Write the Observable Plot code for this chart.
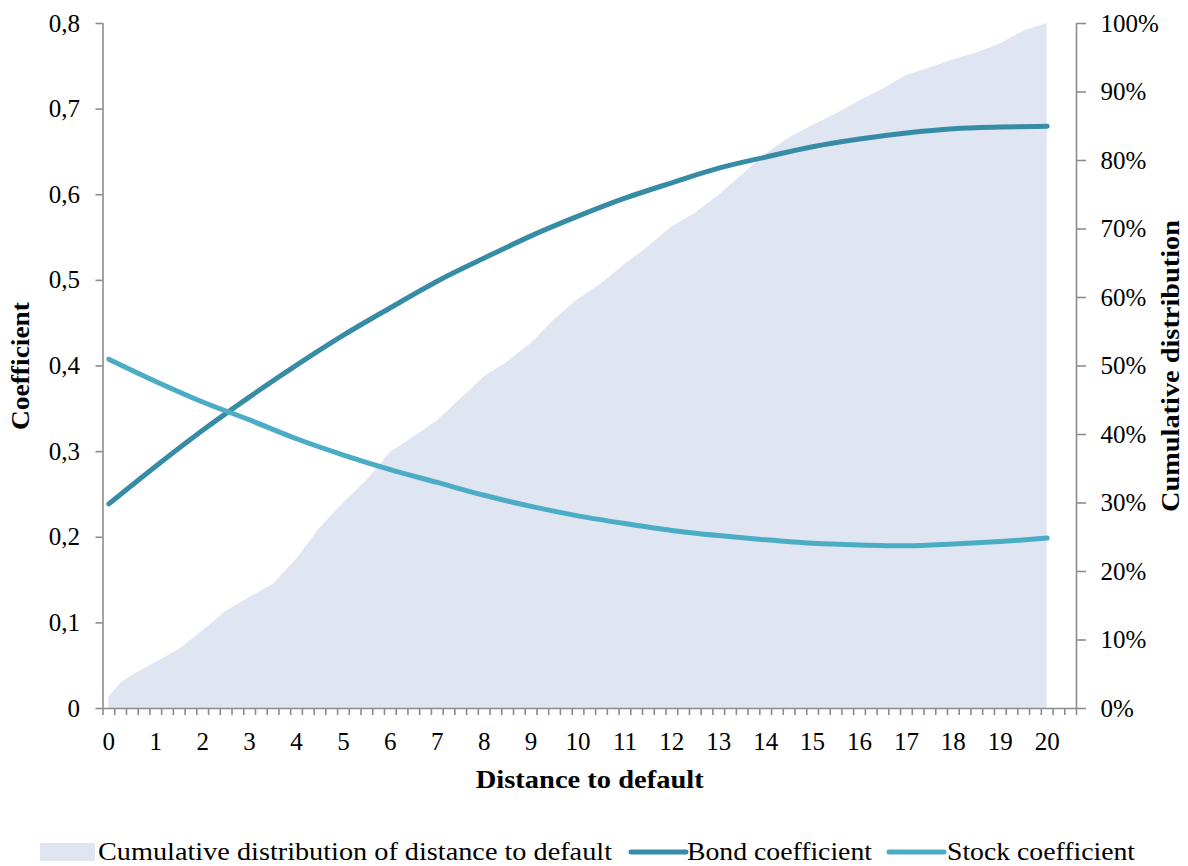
<!DOCTYPE html>
<html>
<head>
<meta charset="utf-8">
<script src="https://cdn.jsdelivr.net/npm/d3@7"></script>
<script src="https://cdn.jsdelivr.net/npm/@observablehq/plot@0.6"></script>
<style>
  body { margin: 0; background: #ffffff; }
  #chart { position: relative; width: 1188px; height: 866px; font-family: "Liberation Serif", serif; }
  #chart svg { display: block; }
</style>
</head>
<body>
<div id="chart"></div>
<script>
// ---- data ----
const distance = [0,1,2,3,4,5,6,7,8,9,10,11,12,13,14,15,16,17,18,19,20];
const bondCoef = [0.239,0.283,0.325,0.364,0.401,0.436,0.468,0.499,0.526,0.552,0.575,0.596,0.614,0.631,0.644,0.656,0.665,0.672,0.677,0.679,0.680];
const stockCoef = [0.408,0.382,0.358,0.337,0.315,0.296,0.279,0.264,0.249,0.236,0.225,0.216,0.208,0.202,0.197,0.193,0.191,0.190,0.192,0.195,0.199];
const cdfX = [0,0.25,0.5,1,1.5,2,2.5,3,3.5,4,4.5,5,5.5,6,6.5,7,7.5,8,8.5,9,9.5,10,10.5,11,11.5,12,12.5,13,13.5,14,14.5,15,15.5,16,16.5,17,17.5,18,18.5,19,19.5,20];
const cdfPct = [1.6,3.7,4.8,6.7,8.6,11.3,14.2,16.2,18.1,21.8,26.3,30.0,33.3,37.4,39.6,42.0,45.2,48.4,50.6,53.3,56.8,59.7,62.0,64.8,67.4,70.3,72.3,74.9,77.9,80.9,83.3,85.1,86.8,88.7,90.4,92.4,93.5,94.7,95.7,97.0,98.9,100];

const xTickValues = [0,1,2,3,4,5,6,7,8,9,10,11,12,13,14,15,16,17,18,19,20];
const coefTicks = [0,0.1,0.2,0.3,0.4,0.5,0.6,0.7,0.8];
const coefTickLabels = ["0","0,1","0,2","0,3","0,4","0,5","0,6","0,7","0,8"];
const pctTicks = [0,10,20,30,40,50,60,70,80,90,100];
const pctTickLabels = ["0%","10%","20%","30%","40%","50%","60%","70%","80%","90%","100%"];

const seriesNames = ["Cumulative distribution of distance to default","Bond coefficient","Stock coefficient"];
const colors = { area: "#dfe6f1", bond: "#378ca5", stock: "#4bacc6", axis: "#8c8c8c" };

// ---- build tables ----
const coefMax = 0.8;
const bondData = distance.map((x, i) => ({ x, y: bondCoef[i] }));
const stockData = distance.map((x, i) => ({ x, y: stockCoef[i] }));
const cdfData = cdfX.map((x, i) => ({ x, pct: cdfPct[i] }));
const xMin = -0.125, xMax = 20.625;
const minorTicks = d3.range(0, 84).map(i => xMin + i * 0.25);

const plot = Plot.plot({
  width: 1188,
  height: 820,
  marginLeft: 102.5,
  marginRight: 112,
  marginTop: 23,
  marginBottom: 112,
  style: { fontFamily: "Liberation Serif, serif", fontSize: "25px", color: "#000", background: "#fff", overflow: "visible" },
  x: { domain: [xMin, xMax] },
  y: { domain: [0, coefMax] },
  marks: [
    Plot.areaY(cdfData, { x: "x", y: d => d.pct / 100 * coefMax, fill: colors.area }),
    Plot.line(bondData, { x: "x", y: "y", stroke: colors.bond, strokeWidth: 5, curve: "monotone-x", strokeLinecap: "round" }),
    Plot.line(stockData, { x: "x", y: "y", stroke: colors.stock, strokeWidth: 5, curve: "monotone-x", strokeLinecap: "round" }),
    Plot.ruleX([xMin, xMax], { stroke: colors.axis, strokeWidth: 1.6 }),
    Plot.ruleY([0], { stroke: colors.axis, strokeWidth: 1.6 }),
    Plot.axisY({ anchor: "left", ticks: coefTicks, tickFormat: (d, i) => coefTickLabels[i], tickSize: 7, tickPadding: 16, stroke: colors.axis, strokeWidth: 1.6, fill: "#000", label: null }),
    Plot.axisY({ anchor: "right", ticks: pctTicks.map(p => p / 100 * coefMax), tickFormat: (d, i) => pctTickLabels[i], tickSize: 9, tickPadding: 15, stroke: colors.axis, strokeWidth: 1.6, fill: "#000", label: null }),
    Plot.axisX({ anchor: "bottom", ticks: minorTicks, tickSize: 7, tickFormat: () => "", stroke: colors.axis, strokeWidth: 1.6, label: null }),
    Plot.axisX({ anchor: "bottom", ticks: xTickValues, tickSize: 0, tickPadding: 24, fill: "#000", label: null }),
    Plot.text(["Distance to default"], { frameAnchor: "bottom", dy: 79, textAnchor: "middle", fontWeight: "bold", fontSize: 25, fill: "#000", className: "title-x" }),
    Plot.text(["Coefficient"], { frameAnchor: "left", dx: -82, rotate: -90, textAnchor: "middle", fontWeight: "bold", fontSize: 25, fill: "#000", className: "title-yl" }),
    Plot.text(["Cumulative distribution"], { frameAnchor: "right", dx: 94, rotate: -90, textAnchor: "middle", fontWeight: "bold", fontSize: 25, fill: "#000", className: "title-yr" })
  ]
});

const fit = (sel, len) => {
  const t = plot.querySelector(sel + " text");
  if (t) { t.setAttribute("textLength", len); t.setAttribute("lengthAdjust", "spacingAndGlyphs"); }
};
fit(".title-x", 228);
fit(".title-yl", 128);
fit(".title-yr", 292);

const chart = document.getElementById("chart");
chart.appendChild(plot);

// ---- legend (below the plot svg) ----
const leg = d3.select(chart).append("svg").attr("width", 1188).attr("height", 46)
  .style("font-family", "Liberation Serif, serif").style("font-size", "25px");
const baseY = 40, midY = 32;
const items = [
  { type: "area", color: colors.area, sx: 40, tx: 98, len: 514 },
  { type: "line", color: colors.bond, sx: 631, tx: 687, len: 185 },
  { type: "line", color: colors.stock, sx: 889, tx: 947, len: 188 }
];
items.forEach((it, i) => {
  if (it.type === "area") {
    leg.append("rect").attr("x", it.sx).attr("y", midY - 9).attr("width", 55).attr("height", 18).attr("fill", it.color);
  } else {
    leg.append("line").attr("x1", it.sx).attr("x2", it.sx + 55).attr("y1", midY).attr("y2", midY)
      .attr("stroke", it.color).attr("stroke-width", 5).attr("stroke-linecap", "round");
  }
  leg.append("text").attr("x", it.tx).attr("y", baseY).attr("fill", "#000")
    .attr("textLength", it.len).attr("lengthAdjust", "spacingAndGlyphs").text(seriesNames[i]);
});
</script>
</body>
</html>
